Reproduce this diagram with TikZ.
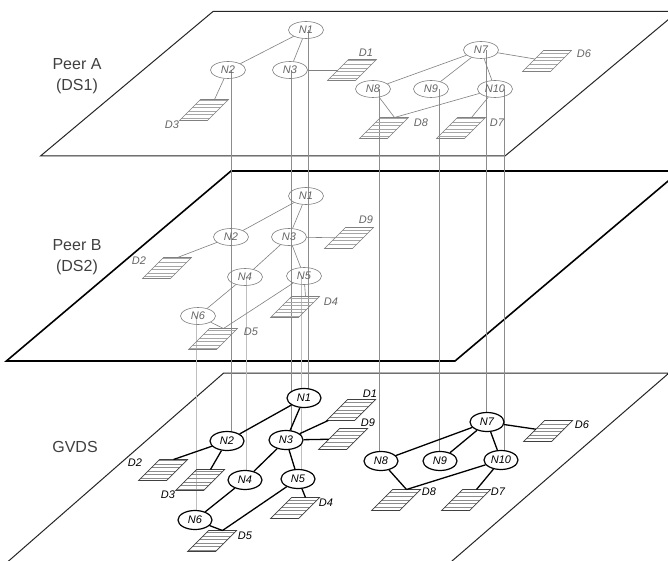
\documentclass[tikz,border=0pt]{standalone}
\usepackage{fontspec}
\setmainfont{Liberation Sans}
\usetikzlibrary{shapes.geometric,calc,patterns}
\pgfdeclarepatternformonly{doclines}{\pgfpoint{-1pt}{-1pt}}{\pgfpoint{100pt}{1pt}}{\pgfpoint{100pt}{3.6pt}}{\pgfsetlinewidth{0.5pt}\pgfpathmoveto{\pgfpoint{-1pt}{0pt}}\pgfpathlineto{\pgfpoint{100pt}{0pt}}\pgfusepath{stroke}}
\pgfdeclarelayer{back}
\pgfsetlayers{back,main}
\tikzset{
  plane/.style={draw=black!85, line width=1pt},
  planeB/.style={draw=black, line width=1.6pt},
  peerlbl/.style={font=\fontsize{16}{21}\selectfont, text=black!75, align=center},
  pnode/.style={ellipse, draw=black!50, line width=0.6pt, minimum width=35pt, minimum height=17pt, inner sep=0pt, font=\fontsize{11}{12}\selectfont\itshape, text=black!60},
  gnode/.style={ellipse, draw=black, line width=1.2pt, fill=white, minimum width=34pt, minimum height=19pt, inner sep=0pt, font=\fontsize{11}{12}\selectfont\itshape},
  docshape/.style={rectangle, minimum width=28pt, minimum height=21pt, inner sep=0pt, outer sep=0pt, xslant=1.0, transform shape, pattern=doclines},
  pdoc/.style={docshape, draw=black!50, line width=0.6pt, pattern color=black!35},
  gdoc/.style={docshape, draw=black!75, line width=0.7pt, pattern color=black!45},
  plbl/.style={font=\fontsize{11}{12}\selectfont\itshape, text=black!60, inner sep=1pt},
  glbl/.style={font=\fontsize{11}{12}\selectfont\itshape, text=black, inner sep=1pt},
  pedge/.style={draw=black!50, line width=0.6pt},
  gedge/.style={draw=black, line width=1.3pt},
  vA/.style={draw=black!45, line width=1pt},
  vB/.style={draw=black!25, line width=0.8pt}
}
\begin{document}
\begin{tikzpicture}[x=1pt,y=-1pt]
\useasboundingbox (0,0) rectangle (668,561);
\clip (0,0) rectangle (668,561);
\begin{pgfonlayer}{back}
\fill[white] (0,0) rectangle (668,561);
\draw[plane] (213,11.5) -- (678,11.5) -- (505,156) -- (40.5,156) -- cycle;
\draw[planeB] (231,171) -- (680,171) -- (455,361) -- (6.4,361) -- cycle;
\draw[plane] (223.7,373) -- (669,373) -- (407,600) -- (-36,600) -- cycle;
\end{pgfonlayer}

% labels of planes
\node[peerlbl] (lblA) at (77,76) {Peer A\\(DS1)};
\node[peerlbl] (lblB) at (77,257) {Peer B\\(DS2)};
\node[peerlbl] (lblG) at (75,447) {GVDS};

% ---------- Peer A ----------
\node[pnode] (pa-n1) at (306,30) {N1};
\node[pnode] (pa-n2) at (228,70) {N2};
\node[pnode] (pa-n3) at (290,70) {N3};
\node[pdoc] (pa-d1) at (352,70) {};
\node[plbl] (pa-l1) at (366,53) {D1};
\node[pdoc] (pa-d3) at (204,110) {};
\node[plbl] (pa-l3) at (172,125) {D3};
\node[pnode] (pa-n7) at (481,50) {N7};
\node[pdoc] (pa-d6) at (547,61) {};
\node[plbl] (pa-l6) at (584,54) {D6};
\node[pnode] (pa-n8) at (373,89) {N8};
\node[pnode] (pa-n9) at (431,89) {N9};
\node[pnode] (pa-n10) at (495,89) {N10};
\node[pdoc] (pa-d8) at (384,128) {};
\node[plbl] (pa-l8) at (421,123) {D8};
\node[pdoc] (pa-d7) at (461,128) {};
\node[plbl] (pa-l7) at (497,123) {D7};

\draw[pedge] (pa-n1) -- (pa-n2);
\draw[pedge] (pa-n1) -- (pa-n3);
\draw[pedge] (pa-n3) -- (pa-d1);
\draw[pedge] (pa-n2) -- (pa-d3.north);
\draw[pedge] (pa-n7) -- (pa-d6);
\draw[pedge] (pa-n7) -- (pa-n8);
\draw[pedge] (pa-n7) -- (pa-n9);
\draw[pedge] (pa-n7) -- (pa-n10);
\draw[pedge] (pa-n8) -- (pa-d8.north);
\draw[pedge] (pa-n10) -- (pa-d8.north);
\draw[pedge] (pa-n10) -- (pa-d7.north);

% ---------- Peer B ----------
\node[pnode] (pb-n1) at (306,196) {N1};
\node[pnode] (pb-n2) at (231,237) {N2};
\node[pnode] (pb-n3) at (289,237) {N3};
\node[pdoc] (pb-d9) at (349,238) {};
\node[plbl] (pb-l9) at (366,220) {D9};
\node[pnode] (pb-n4) at (245,277) {N4};
\node[pnode] (pb-n5) at (304,276) {N5};
\node[pnode] (pb-n6) at (198,316) {N6};
\node[pdoc] (pb-d2) at (167,268) {};
\node[plbl] (pb-l2) at (139,261) {D2};
\node[pdoc] (pb-d4) at (295,307) {};
\node[plbl] (pb-l4) at (331,302) {D4};
\node[pdoc] (pb-d5) at (213,339) {};
\node[plbl] (pb-l5) at (251,332) {D5};

\draw[pedge] (pb-n1) -- (pb-n2);
\draw[pedge] (pb-n1) -- (pb-n3);
\draw[pedge] (pb-n2) -- (pb-d2.north);
\draw[pedge] (pb-n3) -- (pb-d9);
\draw[pedge] (pb-n3) -- (pb-n4);
\draw[pedge] (pb-n3) -- (pb-n5);
\draw[pedge] (pb-n4) -- (pb-n6);
\draw[pedge] (pb-n5) -- (pb-d4.north);
\draw[pedge] (pb-n5) -- (pb-d5.north);
\draw[pedge] (pb-n6) -- (pb-d5.north);

% ---------- GVDS ----------
\node[gnode] (g-n1) at (304,398) {N1};
\node[gnode] (g-n2) at (227,441) {N2};
\node[gnode] (g-n3) at (286,440) {N3};
\node[gnode] (g-n4) at (245,480) {N4};
\node[gnode] (g-n5) at (298,479) {N5};
\node[gnode] (g-n6) at (195,520) {N6};
\node[gdoc] (g-d1) at (351,410) {};
\node[glbl] (g-l1) at (370,394) {D1};
\node[gdoc] (g-d9) at (343,439) {};
\node[glbl] (g-l9) at (368,423) {D9};
\node[gdoc] (g-d2) at (163,470) {};
\node[glbl] (g-l2) at (135,463) {D2};
\node[gdoc] (g-d3) at (200,480) {};
\node[glbl] (g-l3) at (168,495) {D3};
\node[gdoc] (g-d4) at (295,508) {};
\node[glbl] (g-l4) at (326,503) {D4};
\node[gdoc] (g-d5) at (212,541) {};
\node[glbl] (g-l5) at (245,536) {D5};
\node[gnode] (g-n7) at (487,422) {N7};
\node[gnode] (g-n8) at (381,461) {N8};
\node[gnode] (g-n9) at (440,461) {N9};
\node[gnode] (g-n10) at (501,460) {N10};
\node[gdoc] (g-d6) at (548,431) {};
\node[glbl] (g-l6) at (582,425) {D6};
\node[gdoc] (g-d8) at (396,500) {};
\node[glbl] (g-l8) at (429,492) {D8};
\node[gdoc] (g-d7) at (466,500) {};
\node[glbl] (g-l7) at (498,492) {D7};

\draw[gedge] (g-n1) -- (g-n2);
\draw[gedge] (g-n1) -- (g-n3);
\draw[gedge] (g-n3) -- (g-d1);
\draw[gedge] (g-n3) -- (g-d9);
\draw[gedge] (g-n2) -- (g-d2.north);
\draw[gedge] (g-n2) -- (g-d3.north);
\draw[gedge] (g-n3) -- (g-n4);
\draw[gedge] (g-n3) -- (g-n5);
\draw[gedge] (g-n4) -- (g-n6);
\draw[gedge] (g-n5) -- (g-d4.north);
\draw[gedge] (g-n5) -- (g-d5.north);
\draw[gedge] (g-n6) -- (g-d5.north);
\draw[gedge] (g-n7) -- (g-d6);
\draw[gedge] (g-n7) -- (g-n8);
\draw[gedge] (g-n7) -- (g-n9);
\draw[gedge] (g-n7) -- (g-n10);
\draw[gedge] (g-n8) -- (g-d8.north);
\draw[gedge] (g-n10) -- (g-d8.north);
\draw[gedge] (g-n10) -- (g-d7.north);

% ---------- vertical links ----------
\coordinate (x1) at (308,0);
\coordinate (x2) at (231,0);
\coordinate (x3) at (291,0);
\coordinate (x4) at (246,0);
\coordinate (x5) at (301,0);
\coordinate (x6) at (196,0);
\coordinate (x7) at (486,0);
\coordinate (x8) at (379,0);
\coordinate (x9) at (439,0);
\coordinate (x10) at (504,0);
\begin{pgfonlayer}{back}
\draw[vA] (pa-n1.center -| x1) -- (g-n1.center -| x1);
\draw[vA] (pa-n2.center -| x2) -- (g-n2.center -| x2);
\draw[vA] (pa-n3.center -| x3) -- (g-n3.center -| x3);
\draw[vB] (pb-n4.center -| x4) -- (g-n4.center -| x4);
\draw[vB] (pb-n5.center -| x5) -- (g-n5.center -| x5);
\draw[vB] (pb-n6.center -| x6) -- (g-n6.center -| x6);
\draw[vA] (pa-n7.center -| x7) -- (g-n7.center -| x7);
\draw[vA] (pa-n8.center -| x8) -- (g-n8.center -| x8);
\draw[vA] (pa-n9.center -| x9) -- (g-n9.center -| x9);
\draw[vA] (pa-n10.center -| x10) -- (g-n10.center -| x10);
\end{pgfonlayer}
\end{tikzpicture}
\end{document}
